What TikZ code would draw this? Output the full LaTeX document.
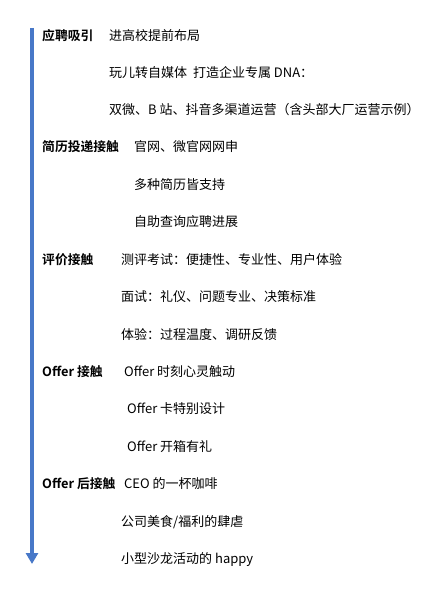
\documentclass[tikz,border=0pt]{standalone}
\usepackage{fontspec}
\setmainfont{Noto Sans CJK SC}[BoldFont={Noto Sans CJK SC Bold}]
\usetikzlibrary{arrows.meta}
\definecolor{lineblue}{RGB}{72,120,200}

\begin{document}
\begin{tikzpicture}[x=1pt, y=-1pt, font=\fontsize{13}{15}\selectfont]
    \tikzstyle{stage_label} = [anchor=west, inner sep=0pt, font=\fontsize{12.8}{15}\selectfont\bfseries]
    \tikzstyle{stage_item} = [anchor=west, inner sep=0pt]
    \tikzstyle{arrow_blue} = [-{Triangle[width=12pt,length=11pt]}, lineblue, line width=3.5pt]

    \useasboundingbox (0,0) rectangle (447,593);

    \coordinate (tTop) at (32,28);
    \coordinate (tEnd) at (32,564);
    \draw[arrow_blue] (tTop) -- (tEnd);

    % stage 1
    \node[stage_label] (s1) at (42,36) {应聘吸引};
    \node[stage_item] (s1a) at (109,36) {进高校提前布局};
    \node[stage_item] (s1b) at (109,73) {玩儿转自媒体\ \ 打造企业专属 DNA：};
    \node[stage_item] (s1c) at (109,110) {双微、B 站、抖音多渠道运营（含头部大厂运营示例）};

    % stage 2
    \node[stage_label] (s2) at (42,147) {简历投递接触};
    \node[stage_item] (s2a) at (134,147) {官网、微官网网申};
    \node[stage_item] (s2b) at (134,185) {多种简历皆支持};
    \node[stage_item] (s2c) at (134,222) {自助查询应聘进展};

    % stage 3
    \node[stage_label] (s3) at (42,260) {评价接触};
    \node[stage_item] (s3a) at (121,260) {测评考试：便捷性、专业性、用户体验};
    \node[stage_item] (s3b) at (121,297) {面试：礼仪、问题专业、决策标准};
    \node[stage_item] (s3c) at (121,335) {体验：过程温度、调研反馈};

    % stage 4
    \node[stage_label] (s4) at (42,372) {Offer 接触};
    \node[stage_item] (s4a) at (124,372) {Offer 时刻心灵触动};
    \node[stage_item] (s4b) at (127,409) {Offer 卡特别设计};
    \node[stage_item] (s4c) at (127,447) {Offer 开箱有礼};

    % stage 5
    \node[stage_label] (s5) at (42,484) {Offer 后接触};
    \node[stage_item] (s5a) at (124,484) {CEO 的一杯咖啡};
    \node[stage_item] (s5b) at (121,522) {公司美食/福利的肆虐};
    \node[stage_item] (s5c) at (121,560) {小型沙龙活动的 happy};

\end{tikzpicture}
\end{document}
